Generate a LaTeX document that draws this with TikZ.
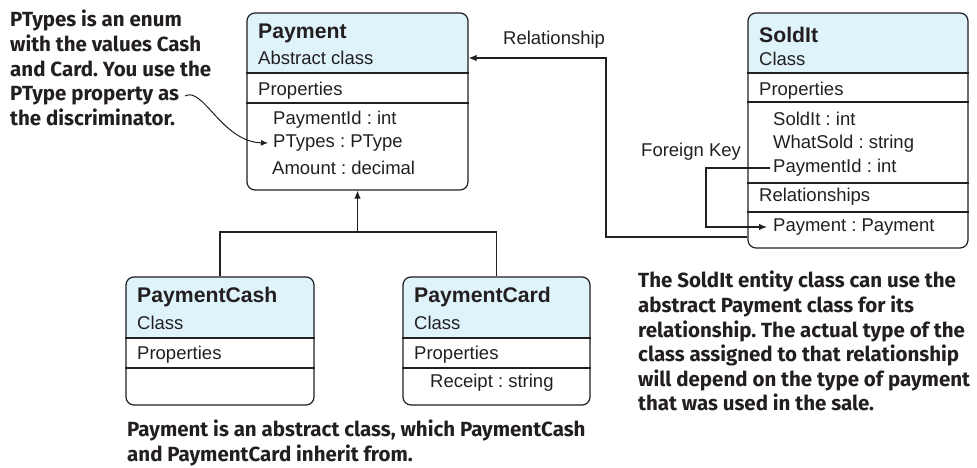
\documentclass[tikz,border=0pt]{standalone}
\usepackage{fontspec}
\setmainfont{Liberation Sans}
\newfontfamily\capfont{Fira Sans}
\usetikzlibrary{arrows.meta,backgrounds}
\definecolor{hdr}{HTML}{DFF3FB}
\definecolor{ink}{HTML}{231F20}
\frenchspacing
\begin{document}
\begin{tikzpicture}[x=1pt,y=-1pt,
  box/.style={draw=ink, line width=1.2pt, rounded corners=8pt, inner sep=0pt},
  sepline/.style={draw=ink, line width=1.2pt},
  ttl/.style={anchor=west, inner sep=0pt, text=ink, font=\fontsize{21.2}{24}\selectfont\bfseries},
  txt/.style={anchor=west, inner sep=0pt, text=ink, font=\fontsize{18.5}{22}\selectfont},
  captxt/.style={anchor=north west, inner sep=0pt, text=ink, align=left, font=\capfont\bfseries\fontsize{20.5}{24.6}\selectfont\frenchspacing},
  conn/.style={draw=ink, line width=1.2pt},
  arr/.style={conn, -{Latex[length=8pt,width=6.5pt]}}]
\useasboundingbox (0,0) rectangle (977,468);

% Payment
\node[box, minimum width=221pt, minimum height=177pt] (pay) at (357.5,101.5) {};
% SoldIt
\node[box, minimum width=220pt, minimum height=235pt] (sold) at (858,130.5) {};
% PaymentCash
\node[box, minimum width=188pt, minimum height=128pt] (cash) at (220,341) {};
% PaymentCard
\node[box, minimum width=187pt, minimum height=128pt] (card) at (496.5,341) {};

\begin{scope}[on background layer]
  \fill[hdr, rounded corners=8pt] (pay.west |- 0,73) -- (pay.north west) -- (pay.north east) -- (pay.east |- 0,73);
  \fill[hdr, rounded corners=8pt] (sold.west |- 0,73) -- (sold.north west) -- (sold.north east) -- (sold.east |- 0,73);
  \fill[hdr, rounded corners=8pt] (cash.west |- 0,338) -- (cash.north west) -- (cash.north east) -- (cash.east |- 0,338);
  \fill[hdr, rounded corners=8pt] (card.west |- 0,338) -- (card.north west) -- (card.north east) -- (card.east |- 0,338);
\end{scope}

% dividers
\draw[sepline] (pay.west |- 0,73) -- (pay.east |- 0,73);
\draw[sepline] (pay.west |- 0,103) -- (pay.east |- 0,103);
\draw[sepline] (sold.west |- 0,73) -- (sold.east |- 0,73);
\draw[sepline] (sold.west |- 0,102) -- (sold.east |- 0,102);
\draw[sepline] (sold.west |- 0,183) -- (sold.east |- 0,183);
\draw[sepline] (sold.west |- 0,212) -- (sold.east |- 0,212);
\draw[sepline] (cash.west |- 0,338) -- (cash.east |- 0,338);
\draw[sepline] (cash.west |- 0,368) -- (cash.east |- 0,368);
\draw[sepline] (card.west |- 0,338) -- (card.east |- 0,338);
\draw[sepline] (card.west |- 0,368) -- (card.east |- 0,368);

% texts Payment
\node[ttl] (payT) at (258,33) {Payment};
\node[txt] (payS) at (258,58) {Abstract class};
\node[txt] (payP) at (258,91) {Properties};
\node[txt] (pay1) at (273,120) {PaymentId : int};
\node[txt] (pay2) at (273,143) {PTypes : PType};
\node[txt] (pay3) at (272,168) {Amount : decimal};
% texts SoldIt
\node[ttl] (soldT) at (759,35) {SoldIt};
\node[txt] (soldS) at (759,59) {Class};
\node[txt] (soldP) at (759,91) {Properties};
\node[txt] (sold1) at (773,119) {SoldIt : int};
\node[txt] (sold2) at (773,144) {WhatSold : string};
\node[txt] (sold3) at (773,168) {PaymentId : int};
\node[txt] (soldR) at (759,197) {Relationships};
\node[txt] (sold4) at (773,227) {Payment : Payment};
% texts Cash
\node[ttl] (cashT) at (137,297) {PaymentCash};
\node[txt] (cashS) at (137,323) {Class};
\node[txt] (cashP) at (137,355) {Properties};
% texts Card
\node[ttl] (cardT) at (414,297) {PaymentCard};
\node[txt] (cardS) at (414,323) {Class};
\node[txt] (cardP) at (414,355) {Properties};
\node[txt] (card1) at (430,383) {Receipt : string};

% labels
\node[txt] (relL) at (503,40) {Relationship};
\node[txt] (fkL) at (641,152) {Foreign Key};

% inheritance
\coordinate (junc) at (pay.south |- 0,232);
\draw[conn] (cash.north) |- (junc) -| (card.north);
\draw[arr] (junc) -- (pay.south);

% relationship
\draw[arr] (sold.west |- 0,237) -| (606,58) -- (pay.east |- 0,58);

% foreign key
\draw[arr] ([xshift=-3pt]sold3.west) -| (706,227) -- ([xshift=-6pt]sold4.west);

% captions
\node[captxt] (capL) at (10,10) {PTypes is an enum\\with the values Cash\\and Card. You use the\\PType property as\\the discriminator.};
\node[captxt] (capB) at (127,420) {Payment is an abstract class, which PaymentCash\\and PaymentCard inherit from.};
\node[captxt] (capR) at (638,271) {The SoldIt entity class can use the\\abstract Payment class for its\\relationship. The actual type of the\\class assigned to that relationship\\will depend on the type of payment\\that was used in the sale.};

% curved pointer
\coordinate (ptrS) at (185,96);
\draw[draw=ink, line width=1pt, -{Latex[length=7pt,width=6pt]}] (ptrS) .. controls (203,86) and (222,142) .. ([xshift=-5pt]pay2.west);
\end{tikzpicture}
\end{document}
